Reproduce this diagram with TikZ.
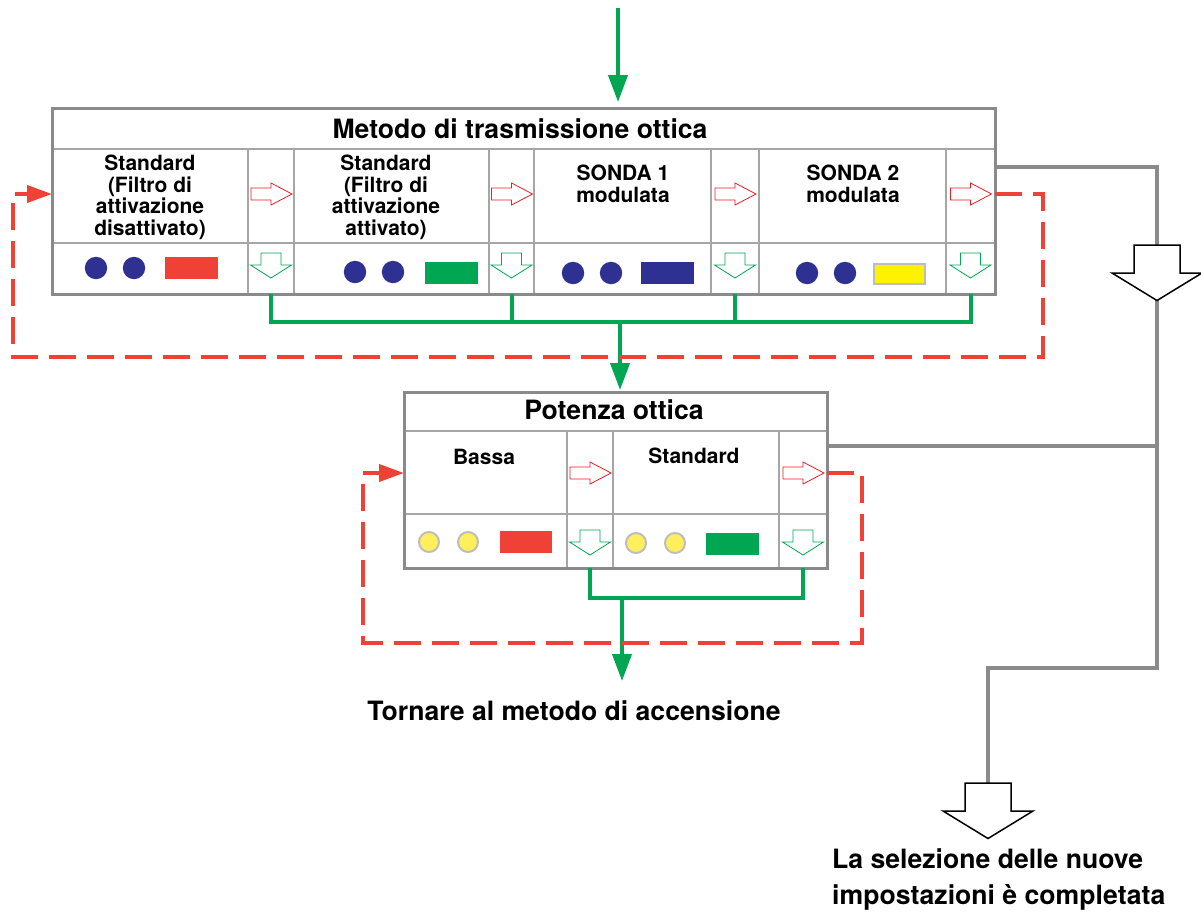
\documentclass[tikz,border=0pt]{standalone}
\usepackage{fontspec}
\setmainfont{TeX Gyre Heros}
\usetikzlibrary{calc,arrows.meta,positioning}

\definecolor{ledblue}{HTML}{2E3192}
\definecolor{ledred}{HTML}{EF4136}
\definecolor{ledgreen}{HTML}{00A651}
\definecolor{ledyellow}{HTML}{FFF200}
\definecolor{dimyellow}{HTML}{FFEF5C}
\definecolor{ledgray}{HTML}{BDBDBD}
\definecolor{framegray}{HTML}{8A8A8A}
\definecolor{rulegray}{HTML}{A6A6A6}
\definecolor{arrred}{HTML}{ED1C24}

\tikzset{
  % hollow step arrows inside the panels
  nextarr/.pic={\draw[draw=arrred,fill=white,line width=.8pt]
    (-20,-6) -- (0,-6) -- (0,-11) -- (21,0) -- (0,11) -- (0,6) -- (-20,6) -- cycle;},
  downarr/.pic={\draw[draw=ledgreen,fill=white,line width=.8pt]
    (-10,-12) -- (10,-12) -- (10,0) -- (20.5,0) -- (0,13) -- (-20.5,0) -- (-10,0) -- cycle;},
  donearr/.pic={\draw[black,fill=white,line width=1.5pt]
    (-23,-28) -- (23,-28) -- (23,0) -- (45,0) -- (0,27.5) -- (-45,0) -- (-23,0) -- cycle;}
}

\begin{document}
\begin{tikzpicture}[x=1pt,y=-1pt,
    frame/.style={draw=framegray,line width=3pt},
    rule/.style={draw=rulegray,line width=1.5pt},
    flow/.style={draw=ledgreen,line width=4pt},
    flowtip/.style={-{Triangle[length=27pt,width=19pt]}},
    redloop/.style={draw=ledred,line width=4pt,dash pattern=on 27pt off 11pt},
    looptip/.style={-{Triangle[length=25pt,width=17pt]}},
    grayline/.style={draw=framegray,line width=4pt},
    headtext/.style={font=\fontsize{26.6}{36}\selectfont\bfseries,inner sep=0pt},
    celltext/.style={font=\fontsize{21}{21.5}\selectfont\bfseries,align=center,anchor=north,inner sep=0pt}]

  \useasboundingbox (0,0) rectangle (1201,913);

  %%%% Metodo di trasmissione ottica %%%%
  \foreach \y in {149,243} \draw[rule] (52,\y) -- (995,\y);
  \foreach \x in {248,294,489,534,711,759,946} \draw[rule] (\x,149) -- (\x,294);
  \draw[frame] (52,108) rectangle (995,294);

  \node[headtext,anchor=base] (metodo) at (520,138) {Metodo di trasmissione ottica};
  \node[celltext] (std1) at (150,155) {Standard\\(Filtro di\\attivazione\\disattivato)};
  \node[celltext] (std2) at (386,155) {Standard\\(Filtro di\\attivazione\\attivato)};
  \node[celltext] (sonda1) at (623,165) {SONDA 1\\modulata};
  \node[celltext] (sonda2) at (853,165) {SONDA 2\\modulata};

  % lamps of each setting
  \foreach \x/\y in {96/268,134/268,355/272,393/272,573/273,611/273,807/273,845/273}
    \fill[ledblue] (\x,\y) circle (11.2);
  \fill[ledred] (165,257) rectangle (218,279);
  \fill[ledgreen] (425,262) rectangle (478,284);
  \fill[ledblue] (641,262) rectangle (694,284);
  \draw[fill=ledyellow,draw=ledgray,line width=2pt] (874,264) rectangle (925,284);

  % step arrows, one column after each setting
  \foreach \x [count=\i] in {271,511.5,735,970.5}{
    \pic at (\x,194) {nextarr};
    \pic at (\x,265) {downarr};
    \coordinate (m-out\i) at (\x,294);
  }
  \coordinate (m-in) at (618,108);
  \coordinate (m-bus) at (620,322);
  \coordinate (m-east) at (995,194);
  \coordinate (m-west) at (52,194);
  \coordinate (m-side) at (995,167);

  %%%% Potenza ottica %%%%
  \foreach \y in {431,514} \draw[rule] (404,\y) -- (827,\y);
  \foreach \x in {567,613,779} \draw[rule] (\x,431) -- (\x,568);
  \draw[frame] (404,392) rectangle (827,568);

  \node[headtext,anchor=base] (potenza) at (614,419) {Potenza ottica};
  \node[celltext] (bassa) at (484,449) {Bassa};
  \node[celltext] (std3) at (694,448) {Standard};

  \foreach \x/\y in {429/542,468/542,636/543,675/543}
    \draw[fill=dimyellow,draw=ledgray,line width=2pt] (\x,\y) circle (10);
  \fill[ledred] (500,531) rectangle (552,553);
  \fill[ledgreen] (706,533) rectangle (759,555);

  \foreach \x [count=\i] in {590,803}{
    \pic at (\x,473) {nextarr};
    \pic at (\x,542) {downarr};
    \coordinate (p-out\i) at (\x,568);
  }
  \coordinate (p-in) at (620,392);
  \coordinate (p-bus) at (622,598);
  \coordinate (p-east) at (827,473);
  \coordinate (p-west) at (404,473);
  \coordinate (p-side) at (827,446);

  %% green flow
  \draw[flow,flowtip,shorten >=6pt] (618,8) -- (m-in);
  \draw[flow] (m-out1) |- (m-bus) -| (m-out4);
  \draw[flow] (m-out2) -- (m-out2 |- m-bus);
  \draw[flow] (m-out3) -- (m-out3 |- m-bus);
  \draw[flow,flowtip,shorten >=2pt] (m-bus) -- (m-bus |- p-in);

  \draw[flow] (p-out1) |- (p-bus) -| (p-out2);
  \node[headtext,anchor=base] (back) at (574,720) {Tornare al metodo di accensione};
  \draw[flow,flowtip] (p-bus) -- (622,681);

  %% dashed return loops
  \draw[redloop,looptip] (m-east) -| (1043,357) -| (13,194) -- (m-west);
  \draw[redloop,looptip] (p-east) -| (862,643) -| (363,473) -- (p-west);

  %% way out to the end of the setting
  \coordinate (d1) at (1157,273);
  \coordinate (d2) at (988,811);
  \draw[grayline] (m-side) -| (d1);
  \draw[grayline] (p-side) -- (p-side -| d1);
  \draw[grayline] (d1) |- (988,668) -- (d2);
  \pic at (d1) {donearr};
  \pic at (d2) {donearr};

  \node[headtext,anchor=north west,align=left] (done) at (832,848)
    {La selezione delle nuove\\impostazioni è completata};

\end{tikzpicture}
\end{document}
